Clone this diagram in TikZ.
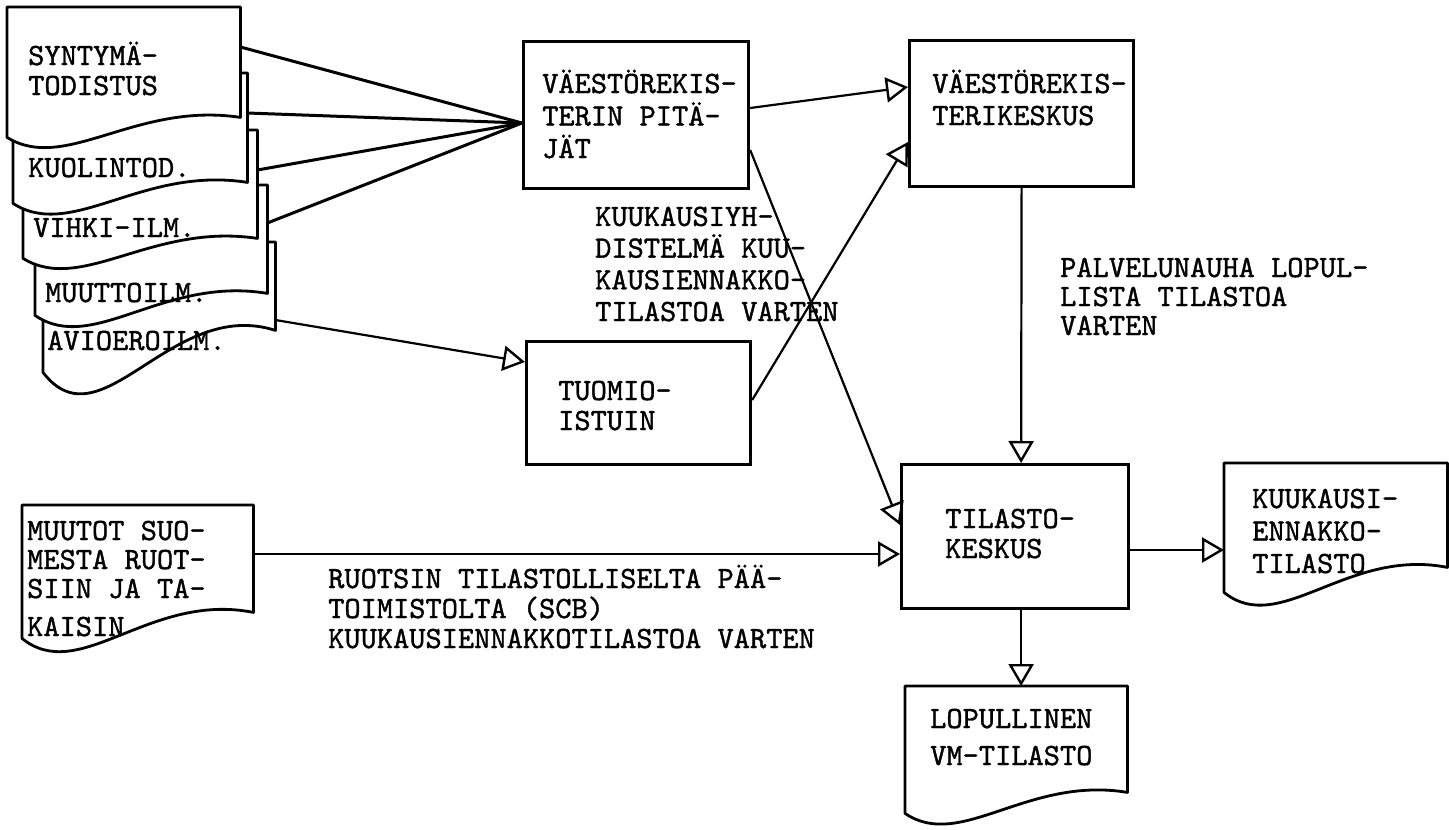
\documentclass[tikz,border=0pt]{standalone}
\usepackage{fontspec}
\newfontfamily\twfont{lmmono10-regular.otf}[FakeBold=1.2]
\usetikzlibrary{arrows.meta,calc}
\newcommand\lblfont[1]{\fontsize{30.9}{#1}\twfont}
\tikzset{
  box/.style={draw, line width=3.2pt, inner sep=0pt, anchor=north west},
  docnode/.style={inner sep=0pt, anchor=north west},
  docline/.style={draw, fill=white, line width=2.8pt, line join=round},
  lbl/.style={font=\lblfont{#1}, align=left, inner sep=0pt, anchor=base west},
  lbl/.default=30,
  feed/.style={line width=3pt},
  flow/.style={line width=2.2pt, -{Triangle[open, length=22pt, width=25pt, line width=2.4pt]}},
}
\newcommand\docoutline[2]{%
  \path[docline] (#1.north west) -- (#1.north east) -- (#1.south east)
    .. controls ($(#1.south west)!0.55!(#1.south east)+(0,-0.8*#2)$)
            and ($(#1.south west)!0.25!(#1.south east)+(0,2.8*#2)$)
    .. ($(#1.south west)+(0,#2)$) -- cycle;}
\begin{document}
\begin{tikzpicture}[x=1pt,y=-1pt]
\useasboundingbox[fill=white] (0,0) rectangle (1449,830);

% stacked input documents (bottom first)
\node[docnode, minimum width=232pt, minimum height=88pt]  (d5) at (43,242) {};
\docoutline{d5}{42}
\node[lbl] (t-d5) at (47,350) {AVIOEROILM.};
\node[docnode, minimum width=232pt, minimum height=108pt] (d4) at (35,185) {};
\docoutline{d4}{22}
\node[lbl] (t-d4) at (45,302) {MUUTTOILM.};
\node[docnode, minimum width=234pt, minimum height=108pt] (d3) at (23,130) {};
\docoutline{d3}{20}
\node[lbl] (t-d3) at (33,237) {VIHKI-ILM.};
\node[docnode, minimum width=234pt, minimum height=109pt] (d2) at (13,73) {};
\docoutline{d2}{21}
\node[lbl] (t-d2) at (28,177) {KUOLINTOD.};
\node[docnode, minimum width=233pt, minimum height=110pt] (d1) at (7,7) {};
\docoutline{d1}{20}
\node[lbl] (t-d1) at (28,95) {SYNTYMÄ-\\TODISTUS};

% other documents
\node[docnode, minimum width=231pt, minimum height=107pt] (muu) at (22,505) {};
\docoutline{muu}{26}
\node[lbl=29] (t-muu) at (27,636) {MUUTOT SUO-\\MESTA RUOT-\\SIIN JA TA-\\[9pt]KAISIN};
\node[docnode, minimum width=223pt, minimum height=104pt] (kuu) at (1224,463) {};
\docoutline{kuu}{25}
\node[lbl=32.5] (t-kuu) at (1252,573) {KUUKAUSI-\\ENNAKKO-\\TILASTO};
\node[docnode, minimum width=222pt, minimum height=106pt] (lop) at (905,686) {};
\docoutline{lop}{21}
\node[lbl=37] (t-lop) at (930,765) {LOPULLINEN\\VM-TILASTO};

% process boxes
\node[box, minimum width=225pt, minimum height=147pt] (pit) at (522,40) {};
\node[lbl=32.5] (t-pit) at (542,158) {VÄESTÖREKIS-\\TERIN PITÄ-\\JÄT};
\node[box, minimum width=224pt, minimum height=146pt] (kes) at (908,39) {};
\node[lbl=32] (t-kes) at (932,125) {VÄESTÖREKIS-\\TERIKESKUS};
\node[box, minimum width=224pt, minimum height=123pt] (tuo) at (525,340) {};
\node[lbl=30] (t-tuo) at (558,430) {TUOMIO-\\ISTUIN};
\node[box, minimum width=227pt, minimum height=144pt] (til) at (900,463) {};
\node[lbl=30] (t-til) at (945,558) {TILASTO-\\KESKUS};

% free labels
\node[lbl=31.7] (t-kyh) at (595,321) {KUUKAUSIYH-\\DISTELMÄ KUU-\\KAUSIENNAKKO-\\TILASTOA VARTEN};
\node[lbl=29] (t-pal) at (1060,335) {PALVELUNAUHA LOPUL-\\LISTA TILASTOA\\VARTEN};
\node[lbl=30] (t-ruo) at (328,648) {RUOTSIN TILASTOLLISELTA PÄÄ-\\TOIMISTOLTA (SCB)\\KUUKAUSIENNAKKOTILASTOA VARTEN};

% connectors
\coordinate (conv) at ([yshift=-83pt]pit.north west);
\draw[feed] ([yshift=-40pt]d1.north east) -- (conv);
\draw[feed] ([yshift=-40pt]d2.north east) -- (conv);
\draw[feed] ([yshift=-40pt]d3.north east) -- (conv);
\draw[feed] ([yshift=-38pt]d4.north east) -- (conv);
\draw[flow] ([yshift=-78pt]d5.north east) -- ([yshift=-22pt]tuo.north west);
\draw[flow] ([yshift=-68pt]pit.north east) -- ([yshift=-48pt]kes.north west);
\draw[flow] ([yshift=-60pt]tuo.north east) -- ([yshift=-103pt]kes.north west);
\draw[flow] ([yshift=-110pt]pit.north east) -- ([yshift=-62pt]til.north west);
\draw[flow] ([yshift=-49pt]muu.north east) -- ([yshift=-91pt]til.north west);
\draw[flow] (kes.south) -- ([xshift=6pt]til.north);
\draw[flow] ([yshift=-87pt]til.north east) -- ([yshift=-87pt]kuu.north west);
\draw[flow] ([xshift=6pt]til.south) -- ([xshift=6pt]til.south |- lop.north);
\end{tikzpicture}
\end{document}
